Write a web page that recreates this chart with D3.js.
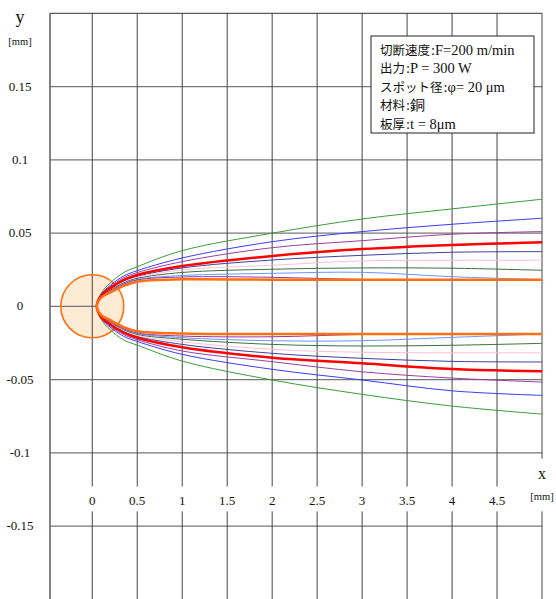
<!DOCTYPE html>
<html>
<head>
<meta charset="utf-8">
<script src="https://cdn.jsdelivr.net/npm/d3@7"></script>
<style>
  body { margin: 0; background: #fff; }
  svg text { fill: #111; }
</style>
</head>
<body>
<div id="chart"></div>
<script>
// x positions (mm) where the kerf edge curves were read
var xs = [0.05, 0.1, 0.2, 0.35, 0.5, 1, 2, 3, 4, 5];

// upper edge (y > 0), mm
var upGreen   = [0, 0.009, 0.016, 0.023, 0.027, 0.038, 0.0499, 0.0596, 0.0665, 0.0731];
var upBlue    = [0, 0.0082, 0.0143, 0.0207, 0.0243, 0.033, 0.0441, 0.051, 0.056, 0.0601];
var upPurple  = [0, 0.0078, 0.0135, 0.0195, 0.023, 0.0305, 0.040, 0.0448, 0.0492, 0.051];
var upRed     = [0, 0.0074, 0.0124, 0.018, 0.0214, 0.0275, 0.0344, 0.0391, 0.0419, 0.0437];
var upNavy    = [0, 0.0071, 0.0118, 0.0172, 0.0205, 0.0262, 0.0316, 0.0348, 0.0369, 0.0373];
var upPink    = [0, 0.0069, 0.0114, 0.0166, 0.0198, 0.0248, 0.028, 0.031, 0.0314, 0.0314];
var upDkGreen = [0, 0.0067, 0.0109, 0.016, 0.0191, 0.0231, 0.0253, 0.0262, 0.026, 0.0246];
var upLtBlue  = [0, 0.0065, 0.0105, 0.0154, 0.0184, 0.021, 0.0225, 0.0232, 0.0202, 0.0182];
var upPurple2 = [0, 0.0064, 0.0103, 0.0151, 0.018, 0.020, 0.0198, 0.0183, 0.0182, 0.0182];
var upOrange  = [0, 0.006, 0.0095, 0.014, 0.0168, 0.0184, 0.0182, 0.0182, 0.0182, 0.0182];

// lower edge (y < 0), mm
var loGreen   = [0, -0.009, -0.016, -0.023, -0.0265, -0.0374, -0.0503, -0.0601, -0.0681, -0.0736];
var loBlue    = [0, -0.0082, -0.0143, -0.0205, -0.024, -0.0328, -0.043, -0.0503, -0.0577, -0.0608];
var loPurple  = [0, -0.0078, -0.0135, -0.0193, -0.0228, -0.0305, -0.0378, -0.0447, -0.049, -0.0517];
var loRed     = [0, -0.0074, -0.0124, -0.018, -0.0215, -0.028, -0.0351, -0.0389, -0.0428, -0.0444];
var loNavy    = [0, -0.0071, -0.0118, -0.0172, -0.0206, -0.026, -0.0321, -0.0355, -0.0376, -0.038];
var loPink    = [0, -0.0069, -0.0114, -0.0166, -0.0199, -0.0242, -0.0294, -0.0314, -0.0317, -0.0317];
var loDkGreen = [0, -0.0067, -0.0109, -0.016, -0.0192, -0.0225, -0.026, -0.0271, -0.0266, -0.0253];
var loLtBlue  = [0, -0.0065, -0.0105, -0.0155, -0.0186, -0.0214, -0.0235, -0.0235, -0.0212, -0.0189];
var loPurple2 = [0, -0.0064, -0.0103, -0.0152, -0.0182, -0.0203, -0.0208, -0.0192, -0.0189, -0.0189];
var loOrange  = [0, -0.006, -0.0095, -0.0142, -0.017, -0.0186, -0.0189, -0.0189, -0.0189, -0.0189];

// drawing order: thin lines first, thick red and orange on top
var curves = [
  { up: upGreen,   lo: loGreen,   color: "#3c9c3c", w: 1 },
  { up: upBlue,    lo: loBlue,    color: "#3c3cff", w: 1 },
  { up: upPurple,  lo: loPurple,  color: "#9a3fa0", w: 1 },
  { up: upNavy,    lo: loNavy,    color: "#40409a", w: 1 },
  { up: upPink,    lo: loPink,    color: "#ffc0d8", w: 1 },
  { up: upDkGreen, lo: loDkGreen, color: "#3f6f3f", w: 1 },
  { up: upLtBlue,  lo: loLtBlue,  color: "#6d95ff", w: 1 },
  { up: upPurple2, lo: loPurple2, color: "#993399", w: 1 },
  { up: upRed,     lo: loRed,     color: "#ff0000", w: 2.5 },
  { up: upOrange,  lo: loOrange,  color: "#ff7010", w: 2.5 }
];

var xTicks = [0, 0.5, 1, 1.5, 2, 2.5, 3, 3.5, 4, 4.5];
var xGrid = [0, 0.5, 1, 1.5, 2, 2.5, 3, 3.5, 4, 4.5, 5];
var yTicks = [0.15, 0.1, 0.05, 0, -0.05, -0.1, -0.15];
var yTickLabels = ["0.15", "0.1", "0.05", "0", "-0.05", "-0.1", "-0.15"];
var spotR = 0.0215;   // drawn spot radius, in y units

// condition box: Japanese label, then the value in roman type
var legendKeys = ["切断速度", "出力", "スポット径", "材料", "板厚"];
var legendVals = [":F=200 m/min", ":P = 300 W", ":φ= 20 μm", ":銅", ":t = 8μm"];

var serif = "'Liberation Serif', 'Times New Roman', 'DejaVu Serif', serif";
var gothic = "'Noto Sans CJK JP', 'Noto Sans', sans-serif";

var width = 556, height = 599;

var svg = d3.select("#chart").append("svg")
  .attr("width", width)
  .attr("height", height);

var x = d3.scaleLinear().domain([-0.47, 5]).range([50, 542]);
var y = d3.scaleLinear().domain([-0.2, 0.2]).range([599.3, 13.3]);

// spot circle fill under the grid
svg.append("circle")
  .attr("cx", x(0)).attr("cy", y(0))
  .attr("r", y(0) - y(spotR))
  .attr("fill", "#fdebd6");

// horizontal grid
svg.append("g").selectAll("line")
  .data(yTicks.filter(function (d) { return d !== 0; }))
  .enter().append("line")
  .attr("x1", x(-0.47)).attr("x2", x(5))
  .attr("y1", function (d) { return y(d); })
  .attr("y2", function (d) { return y(d); })
  .attr("stroke", "#777")
  .attr("stroke-width", 1.2);

// the zero line only reaches the cut front
svg.append("line")
  .attr("x1", x(-0.47)).attr("x2", x(0.05))
  .attr("y1", y(0)).attr("y2", y(0))
  .attr("stroke", "#777").attr("stroke-width", 1.2);

// vertical grid, broken where the x labels sit
var vg = svg.append("g");
xGrid.forEach(function (d) {
  var gapTop = d === 5 ? -0.104 : -0.123;
  vg.append("line")
    .attr("x1", x(d)).attr("x2", x(d))
    .attr("y1", y(0.2)).attr("y2", y(gapTop))
    .attr("stroke", "#444").attr("stroke-width", 1);
  vg.append("line")
    .attr("x1", x(d)).attr("x2", x(d))
    .attr("y1", y(-0.14)).attr("y2", y(-0.2))
    .attr("stroke", "#444").attr("stroke-width", 1);
});

// frame: left axis and top edge
svg.append("line")
  .attr("x1", x(-0.47)).attr("x2", x(-0.47))
  .attr("y1", y(0.2)).attr("y2", y(-0.2))
  .attr("stroke", "#666").attr("stroke-width", 1.6);
svg.append("line")
  .attr("x1", x(-0.47)).attr("x2", x(5))
  .attr("y1", y(0.2)).attr("y2", y(0.2))
  .attr("stroke", "#333").attr("stroke-width", 1);

// spot outline
svg.append("circle")
  .attr("cx", x(0)).attr("cy", y(0))
  .attr("r", y(0) - y(spotR))
  .attr("fill", "none")
  .attr("stroke", "#ff7010")
  .attr("stroke-width", 1.6);

// kerf edge curves: lower edge back to the nose, then the upper edge
var line = d3.line()
  .x(function (d) { return x(d[0]); })
  .y(function (d) { return y(d[1]); })
  .curve(d3.curveCatmullRom.alpha(0.5));

svg.append("g").selectAll("path")
  .data(curves)
  .enter().append("path")
  .attr("d", function (c) {
    var pts = [];
    for (var i = xs.length - 1; i > 0; i--) pts.push([xs[i], c.lo[i]]);
    for (var j = 0; j < xs.length; j++) pts.push([xs[j], c.up[j]]);
    return line(pts);
  })
  .attr("fill", "none")
  .attr("stroke", function (c) { return c.color; })
  .attr("stroke-width", function (c) { return c.w; });

// y tick labels
svg.append("g").selectAll("text")
  .data(yTicks)
  .enter().append("text")
  .attr("x", 20)
  .attr("y", function (d) { return y(d) + 4; })
  .attr("text-anchor", "middle")
  .attr("font-family", serif)
  .attr("font-size", 13)
  .text(function (d, i) { return yTickLabels[i]; });

// x tick labels
svg.append("g").selectAll("text")
  .data(xTicks)
  .enter().append("text")
  .attr("x", function (d) { return x(d); })
  .attr("y", 505)
  .attr("text-anchor", "middle")
  .attr("font-family", serif)
  .attr("font-size", 13)
  .text(function (d) { return d; });

// axis names and units
svg.append("text").attr("x", 20).attr("y", 23)
  .attr("text-anchor", "middle").attr("font-family", serif)
  .attr("font-size", 18).text("y");
svg.append("text").attr("x", 20).attr("y", 45)
  .attr("text-anchor", "middle").attr("font-family", serif)
  .attr("font-size", 10.5).text("[mm]");
svg.append("text").attr("x", x(5)).attr("y", 479)
  .attr("text-anchor", "middle").attr("font-family", serif)
  .attr("font-size", 16).text("x");
svg.append("text").attr("x", x(5)).attr("y", 500)
  .attr("text-anchor", "middle").attr("font-family", serif)
  .attr("font-size", 10.5).text("[mm]");

// condition box
var legend = svg.append("g").attr("transform", "translate(371,36)");
legend.append("rect")
  .attr("width", 163).attr("height", 97)
  .attr("fill", "#fff")
  .attr("stroke", "#222").attr("stroke-width", 1);
legendKeys.forEach(function (k, i) {
  var ty = 18.5 + i * 18.5;
  var key = legend.append("text")
    .attr("x", 9).attr("y", ty)
    .attr("font-family", gothic)
    .attr("font-size", 12.5)
    .text(k);
  var kw = key.node().getComputedTextLength();
  legend.append("text")
    .attr("x", 9 + kw + 1).attr("y", ty)
    .attr("font-family", serif)
    .attr("font-size", 14.5)
    .text(legendVals[i]);
});
</script>
</body>
</html>
